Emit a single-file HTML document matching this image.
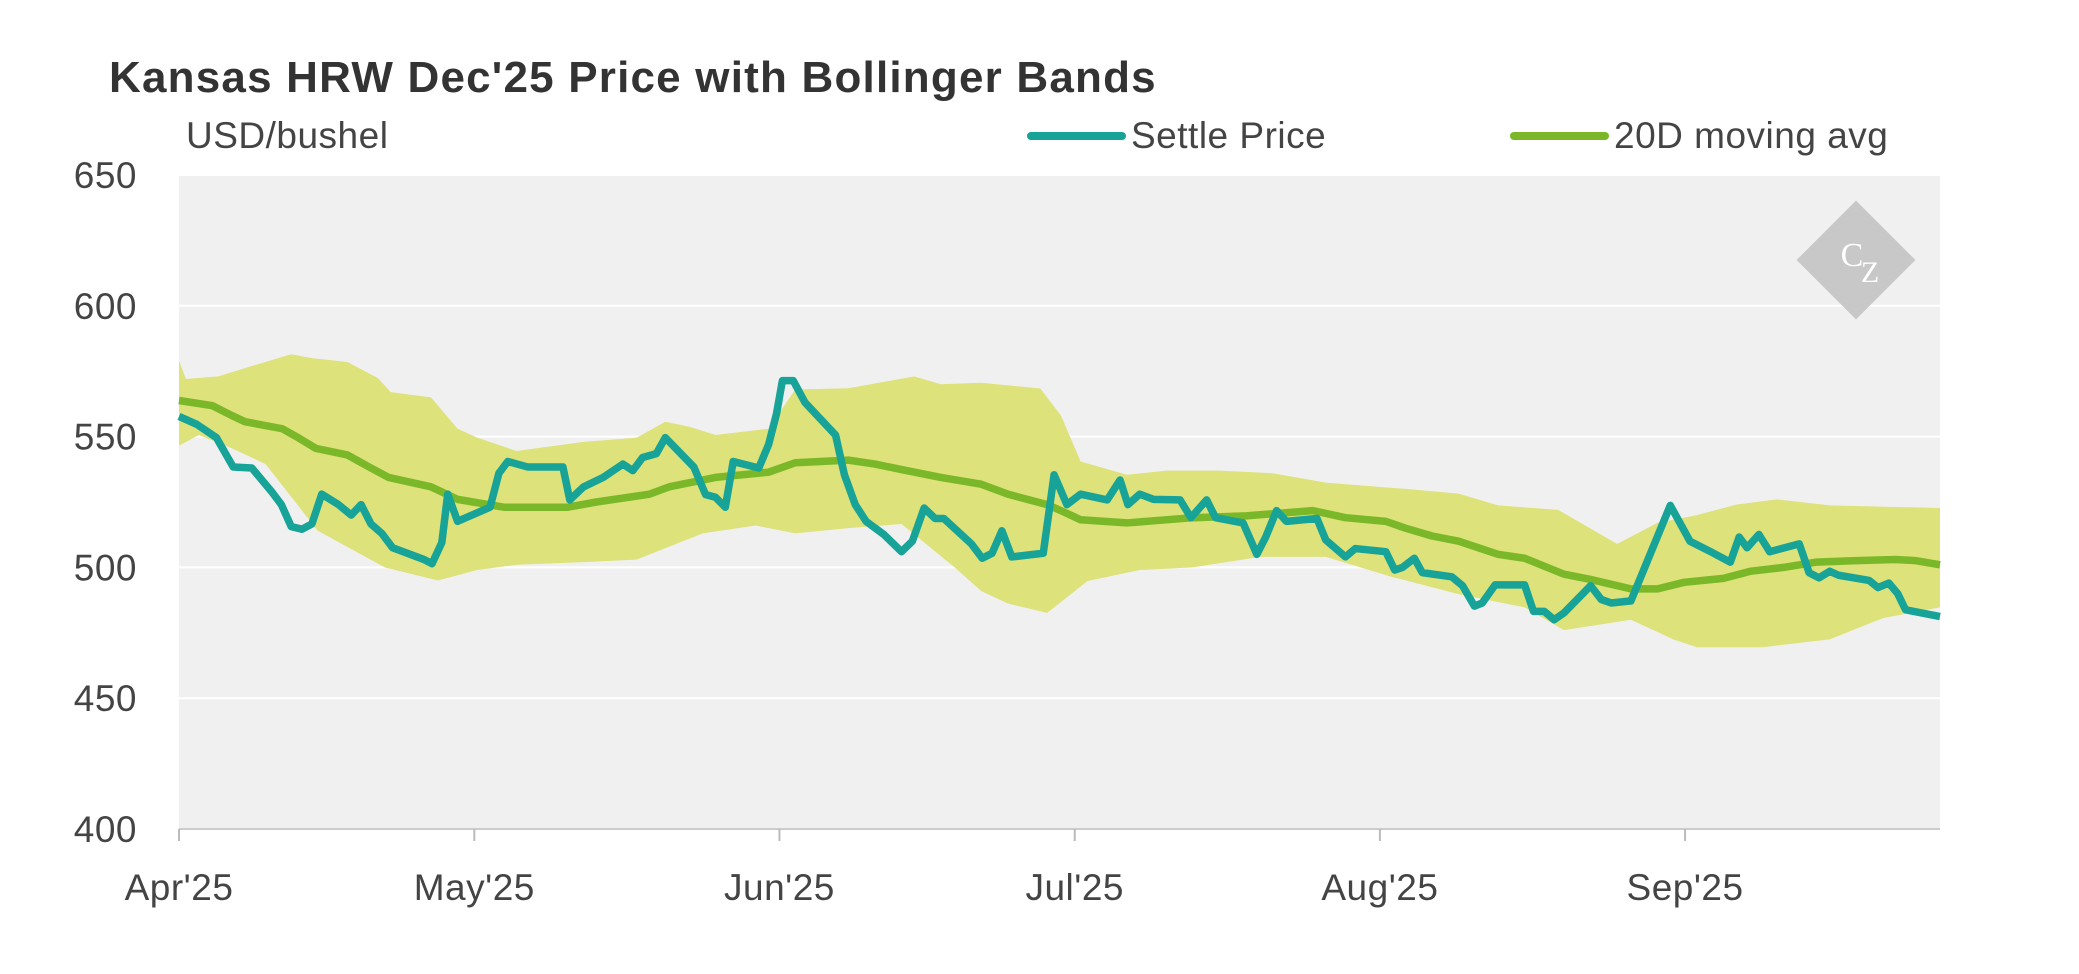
<!DOCTYPE html>
<html><head><meta charset="utf-8"><style>
html,body{margin:0;padding:0;background:#fff;}
svg{display:block;font-family:"Liberation Sans",sans-serif;}
</style></head><body>
<svg id="chart" width="2079" height="974" viewBox="0 0 2079 974">
<text x="109" y="92" font-size="44" font-weight="bold" fill="#333" letter-spacing="1.2">Kansas HRW Dec'25 Price with Bollinger Bands</text>
<text x="186" y="148" font-size="37" fill="#444" letter-spacing="0.5">USD/bushel</text>
<g><line x1="1031" y1="136" x2="1122" y2="136" stroke="#17a398" stroke-width="8" stroke-linecap="round"/><text x="1131" y="148" font-size="37" fill="#444" letter-spacing="0.5">Settle Price</text></g>
<g><line x1="1514" y1="136" x2="1605" y2="136" stroke="#7ab829" stroke-width="8" stroke-linecap="round"/><text x="1614" y="148" font-size="37" fill="#444" letter-spacing="0.5">20D moving avg</text></g>
<rect x="179" y="175" width="1761" height="654" fill="#f0f0f0"/>
<g id="grid"></g>
<g id="band"></g>
<g transform="translate(1856,260)">
<rect x="-42" y="-42" width="84" height="84" transform="rotate(45)" fill="#c8c8c8"/>
<text x="-4" y="6" font-size="34" fill="#fff" font-family="Liberation Serif,serif" text-anchor="middle">C</text>
<text x="14" y="22" font-size="30" fill="#fff" font-family="Liberation Serif,serif" text-anchor="middle">Z</text>
</g>
<g id="lines"></g>
<g id="axes"></g>
</svg>
<script>
const yTicks=[400,450,500,550,600,650];
const monthLabels=["Apr'25","May'25","Jun'25","Jul'25","Aug'25","Sep'25"];
const monthDays=[0,30,61,91,122,153];
const settleDays=[0,1.8,3.8,5.5,7.4,9.4,10.4,11.4,12.5,13.5,14.5,16.2,17.5,18.5,19.5,20.6,21.7,24.9,25.7,26.7,27.3,28.3,31.6,32.5,33.4,35.4,39,39.7,41.1,43.1,45.1,46.1,47.1,48.5,49.4,52.3,53.5,54.5,55.5,56.3,58.9,59.9,60.7,61.3,62.4,63.6,66.7,67.6,68.7,69.8,71.6,73.4,74.5,75.7,76.8,77.7,80.5,81.6,82.6,83.6,84.6,87.8,88.9,90.2,91.6,94.3,95.6,96.4,97.6,99,101.7,102.8,104.4,105.3,108.1,109.5,110.4,111.5,112.5,115.6,116.5,118.5,119.5,122.6,123.5,124.3,125.5,126.3,129.3,130.4,131.6,132.4,133.7,136.7,137.6,138.7,139.7,140.7,143.4,144.5,145.5,147.5,151.5,153.5,155.6,157.6,158.5,159.3,160.5,161.6,164.6,165.6,166.6,167.7,168.6,171.7,172.6,173.7,174.6,175.4,178.9];
const settleValues=[557.7,554.7,549.6,538.4,538,529,524,515.6,514.6,516.6,528,524,520,524,516.6,513,507.5,503,501.4,509.5,528,517.6,523,536,540.5,538.4,538.4,525.8,530.8,534.4,539.5,537,542,543.5,549.6,538.4,527.8,526.8,523,540.5,538,547,558.7,571.4,571.4,563,550.6,535.4,524,517.6,512.6,506,510,522.7,518.7,518.7,509,503.5,505.4,514,504,505.4,535.4,524,528,525.8,533.4,524,528,526,525.8,519,525.8,519,517,505,511.6,521.7,517.6,518.7,510.5,504,507.2,506,499,500,503.5,498,496.4,493,485.2,486.4,493.3,493.3,483.2,483.2,480,482.6,493,487.7,486.4,487.2,523.7,510,506,502,511.6,507.5,512.6,506,509,498,496,498.5,497,495,492.3,494,490,483.8,481.2];
const maDays=[0,3.4,5.4,6.7,10.5,12.1,13.9,17.1,19.5,21.3,25.6,28.3,33,39.5,42.4,47.8,49.8,54.5,59.9,62.6,68,70.7,73.4,77.4,81.5,84.2,88.2,89.6,91.6,96.3,103,108.4,115.2,118.5,122.6,124.6,127.3,130,134,136.7,140.7,143.4,147.5,150.2,152.9,156.9,159.6,163,166.3,170.4,174.4,176.4,178.9];
const maValues=[563.8,561.8,558,555.7,553,549.6,545.5,543,538,534.4,530.8,526,523,523,525,528,530.8,534.4,536.4,540,541,539.5,537.4,534.4,531.8,528,524,521.7,518.2,517,519,519.7,521.7,519,517.6,515,512,510,505,503.5,497.4,495.4,491.8,491.8,494.3,495.8,498.5,500,502,502.6,503,502.6,501];
const upperDays=[0,0.7,4,7.4,11.4,13.5,17.1,20.2,21.5,25.6,28.3,30.3,34.3,41.1,46.5,49.4,51.9,54.5,59.9,62.6,68,74.7,77.4,81.5,87.5,89.6,91.6,96.3,100.3,105.7,111.1,116.5,124.6,130,134,140.1,146.1,150.2,154.2,158.2,162.3,167.7,178.9];
const upperValues=[579,572,573,577,581.5,580,578.5,572.4,567,565,553,549.6,544.5,548,549.6,555.7,553.7,550.6,553,568,568.5,573,570,570.6,568.4,558,540.5,535.4,537,537,536,532.4,530,528.2,523.7,522,509,517,520,524,526,523.7,522.7];
const lowerDays=[0,2,5.4,8.8,14.1,20.9,26.3,30.3,34.3,41.1,46.5,53.2,58.6,62.6,68,73.4,78.8,81.5,84.2,88.2,92.3,97.6,103,109.8,116.5,123.2,130,136.7,140.7,147.5,151.8,154.2,160.9,167.7,173.1,178.9];
const lowerValues=[546.5,550.6,545.5,539.5,514,500,495,499,501,502,503,513,516,513,515,516.6,500,491,486.2,482.6,494.8,499,500,504,504,496.4,489.8,484.7,476,480,472.5,469.5,469.5,472.5,480.6,484.7];

const X0=179,X1=1940,Y0=829,Y1=175,DMAX=178.9;
function xS(d){return X0+(d/DMAX)*(X1-X0);}
function yS(v){return Y0-(v-400)/250*(Y0-Y1);}
const NS="http://www.w3.org/2000/svg";
function mk(tag,attrs,parent){const e=document.createElementNS(NS,tag);for(const k in attrs)e.setAttribute(k,attrs[k]);parent.appendChild(e);return e;}
const grid=document.getElementById('grid'),axes=document.getElementById('axes'),band=document.getElementById('band'),lines=document.getElementById('lines');
yTicks.forEach(v=>{
  if(v>400){const g=mk('line',{x1:X0,x2:X1,y1:yS(v),y2:yS(v),stroke:'#fff','stroke-width':2},grid);
  
  }
  const t=mk('text',{x:137,y:yS(v)+13,'font-size':37,fill:'#444','text-anchor':'end','letter-spacing':0.5},axes);
  t.textContent=v;
  
  
});
const ax=mk('line',{x1:X0,x2:X1,y1:Y0,y2:Y0,stroke:'#ccc','stroke-width':2},axes);


monthDays.forEach((d,i)=>{
  const tk=mk('line',{x1:xS(d),x2:xS(d),y1:Y0,y2:Y0+12,stroke:'#bbb','stroke-width':2},axes);
  
  
  const t=mk('text',{x:xS(d),y:900,'font-size':37,fill:'#444','text-anchor':'middle','letter-spacing':0.5},axes);
  t.textContent=monthLabels[i];
  
  
});
let bp=upperDays.map((d,i)=>xS(d)+','+yS(upperValues[i]));
for(let i=lowerDays.length-1;i>=0;i--)bp.push(xS(lowerDays[i])+','+yS(lowerValues[i]));
const poly=mk('polygon',{points:bp.join(' '),fill:'#dde27a'},band);


const ma=mk('polyline',{points:maDays.map((d,i)=>xS(d)+','+yS(maValues[i])).join(' '),fill:'none',stroke:'#7ab829','stroke-width':7.5,'stroke-linejoin':'round'},lines);


const st=mk('polyline',{points:settleDays.map((d,i)=>xS(d)+','+yS(settleValues[i])).join(' '),fill:'none',stroke:'#17a398','stroke-width':7.5,'stroke-linejoin':'round'},lines);


</script>
</body></html>
